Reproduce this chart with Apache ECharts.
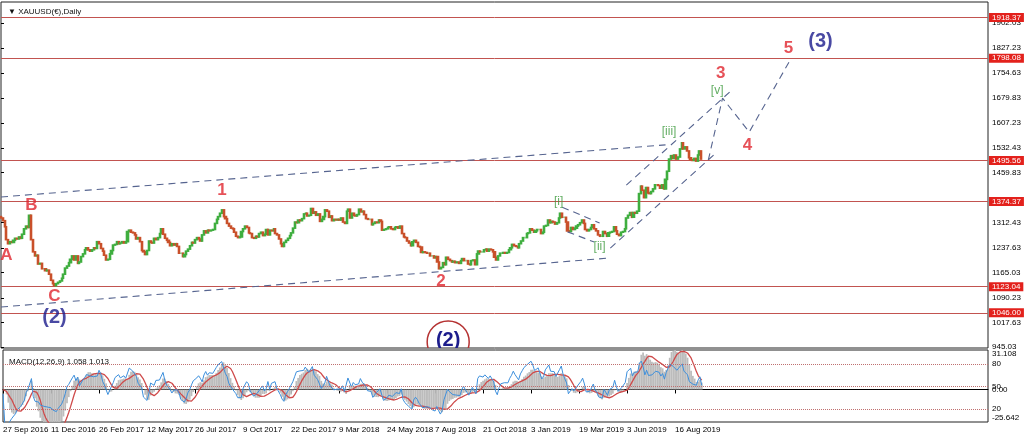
<!DOCTYPE html>
<html><head><meta charset="utf-8">
<script src="https://cdn.jsdelivr.net/npm/echarts/dist/echarts.min.js"></script>
<style>html,body{margin:0;padding:0;background:#fff}#c{width:1024px;height:440px}</style>
</head><body><div id="c"></div>
<script>
// ---------- data ----------
const tickLabels = ['27 Sep 2016','11 Dec 2016','26 Feb 2017','12 May 2017','26 Jul 2017','9 Oct 2017','22 Dec 2017','9 Mar 2018','24 May 2018','7 Aug 2018','21 Oct 2018','3 Jan 2019','19 Mar 2019','3 Jun 2019','16 Aug 2019'];
const priceTicks = [945.03,1017.63,1090.23,1165.03,1237.63,1312.43,1459.83,1532.43,1607.23,1679.83,1754.63,1827.23,1902.03];
const levels = [1918.37,1798.08,1495.56,1374.37,1123.04,1046.00];
const macdTicks = [-25.642,0,31.108];
const oscLevels = [20,50,80];
// closes, one bar per ~2 trading days
const closes = [
1326,1318,1300,1262,1250,1256,1254,1260,1266,1264,1270,1266,1278,1294,1302,1298,1334,1262,1226,1214,1216,1190,1192,1176,1176,1170,1172,1160,
1142,1132,1126,1132,1136,1140,1148,1160,1178,1184,1194,1204,1214,1202,1214,1192,1196,1212,1220,1232,1238,1232,1228,1232,1238,1236,1256,
1250,1236,1228,1216,1202,1204,1220,1230,1246,1248,1256,1250,1252,1256,1252,1256,1286,1290,1284,1282,1276,1264,1268,1256,1230,1226,1218,
1230,1258,1254,1252,1266,1262,1268,1280,1294,1278,1266,1260,1254,1244,1250,1246,1250,1242,1222,1222,1212,1218,1228,1234,1244,1254,1252,
1262,1268,1264,1258,1276,1288,1282,1290,1288,1290,1292,1310,1322,1330,1340,1350,1330,1324,1310,1302,1296,1294,1284,1272,1268,1270,1286,
1294,1302,1298,1282,1280,1268,1266,1272,1270,1280,1284,1274,1278,1292,1276,1290,1288,1294,1280,1276,1264,1250,1242,1254,1260,1266,1274,
1282,1296,1314,1312,1320,1318,1324,1338,1340,1332,1334,1354,1340,1344,1334,1338,1316,1322,1330,1350,1346,1328,1332,1318,1322,1320,1322,
1320,1326,1314,1310,1346,1352,1326,1340,1334,1332,1336,1352,1344,1346,1336,1324,1322,1322,1306,1310,1314,1312,1320,1316,1290,1292,1294,
1298,1300,1294,1292,1298,1300,1296,1302,1280,1270,1268,1258,1252,1244,1256,1260,1254,1242,1240,1224,1226,1224,1222,1222,1214,1214,1208,
1212,1196,1176,1180,1194,1188,1210,1204,1200,1196,1198,1194,1196,1192,1200,1206,1200,1200,1190,1188,1200,1202,1188,1220,1228,1226,1226,
1232,1234,1228,1234,1232,1226,1210,1202,1214,1222,1222,1224,1222,1224,1232,1238,1248,1244,1242,1238,1250,1258,1268,1268,1280,1282,1294,
1290,1284,1288,1292,1292,1280,1284,1302,1304,1320,1312,1316,1314,1308,1312,1326,1340,1328,1328,1314,1288,1286,1298,1292,1296,1302,1306,
1312,1320,1310,1292,1288,1292,1298,1306,1294,1288,1276,1272,1272,1286,1280,1272,1282,1284,1286,1300,1288,1278,1274,1284,1286,1294,1326,
1334,1342,1328,1342,1340,1346,1398,1420,1408,1386,1416,1400,1398,1404,1412,1424,1424,1422,1414,1424,1412,1440,1464,1500,1510,1502,1512,
1500,1506,1530,1548,1530,1536,1524,1504,1498,1496,1502,1494,1512,1524,1500
];
const firstOpen = 1330;
// annotations: [text, bar index, price]
const redLabels = [['A',3,1217],['B',17,1364],['C',30,1096],['1',124,1409],['2',247,1140],['3',404,1754],['4',419,1542],['5',442,1828]];
const blueLabels = [['(2)',30,1031],['(3)',460,1846]];
const greenLabels = [['[i]',313,1373],['[ii]',336,1240],['[iii]',375,1580],['[v]',402,1701]];
const circledLabels = [['(2)',251,960]];
const channelUpper = [[0,1388],[373,1542]];
const channelLower = [[0,1063],[342,1208]];
const subUpper = [[315,1358],[336,1311]];
const subLower = [[318,1285],[333,1255]];
const riseLower = [[342,1237],[400,1512]];
const riseUpper = [[351,1423],[409,1698]];
const projection = [[397,1497],[405,1680],[420,1580],[443,1793]];

// ---------- derived (indicators computed from closes) ----------
const N = 555;
const cats = Array.from({length:N},(_,i)=>String(i));
const candles = closes.map((c,i)=>{const o = i===0?firstOpen:closes[i-1];return [o,c,Math.min(o,c),Math.max(o,c)];});
function ema(a,n){const k=2/(n+1);let e=a[0];return a.map((v,i)=>(e=i===0?v:v*k+e*(1-k)));}
const ef=ema(closes,7), es=ema(closes,15);
const macd = closes.map((_,i)=>ef[i]-es[i]);
const signal = macd.map((_,i)=>{const s=Math.max(0,i-5);const w=macd.slice(s,i+1);return w.reduce((a,b)=>a+b,0)/w.length;});
const rsi = (function(){const n=10;let ag=0,al=0;const out=[];for(let i=0;i<closes.length;i++){if(i===0){out.push(40);continue;}const d=closes[i]-closes[i-1];const g=Math.max(d,0),l=Math.max(-d,0);if(i<=n){ag=(ag*(i-1)+g)/i;al=(al*(i-1)+l)/i;}else{ag=(ag*(n-1)+g)/n;al=(al*(n-1)+l)/n;}out.push(al===0?100:100-100/(1+ag/al));}return out;})();

const AX = 'Liberation Sans Narrow, Liberation Sans, sans-serif';
function dashed(d){return {type:'line',xAxisIndex:2,yAxisIndex:0,data:d,symbol:'none',silent:true,z:5,lineStyle:{color:'#56648f',width:1.1,type:[7,5]}};}
function labels(arr,color,size,weight){return {type:'scatter',xAxisIndex:2,yAxisIndex:0,silent:true,z:10,symbolSize:1,itemStyle:{color:'rgba(0,0,0,0)'},
  data:arr.map(a=>({name:a[0],value:[a[1],a[2]]})),
  label:{show:true,position:'inside',formatter:p=>p.name,color:color,fontSize:size,fontWeight:weight,fontFamily:'Liberation Sans, sans-serif'}};}

const chart = echarts.init(document.getElementById('c'),null,{renderer:'canvas'});
chart.setOption({
  animation:false,
  backgroundColor:'#fff',
  title:[
    {text:'\u25BC XAUUSD(\u20AC),Daily',left:3,top:3,textStyle:{fontSize:8,fontWeight:'normal',color:'#111',fontFamily:AX}},
    {text:'MACD(12,26,9) 1.058 1.013',left:4,top:353,textStyle:{fontSize:8,fontWeight:'normal',color:'#111',fontFamily:AX}}
  ],
  grid:[
    {left:1,top:2,width:987,height:346,show:true,borderColor:'#222',borderWidth:1},
    {left:1,top:350,width:987,height:72,show:true,borderColor:'#222',borderWidth:1}
  ],
  xAxis:[
    {type:'category',gridIndex:0,data:cats,boundaryGap:false,show:false},
    {type:'category',gridIndex:1,data:cats,boundaryGap:false,
      axisLine:{lineStyle:{color:'#000'}},
      axisTick:{interval:(i)=>i%27===0&&i/27<tickLabels.length,length:4,lineStyle:{color:'#000'}},
      axisLabel:{interval:(i)=>i%27===0&&i/27<tickLabels.length,align:'left',margin:4,fontSize:8,fontFamily:AX,color:'#000',
        formatter:(v,idx)=>tickLabels[Math.round(idx/27)]||''}},
    {type:'value',gridIndex:0,min:0,max:N-1,show:false}
  ],
  yAxis:[
    {type:'value',gridIndex:0,position:'right',min:942,max:1963.9,splitLine:{show:false},axisLine:{show:false},
      axisTick:{show:true,customValues:priceTicks,length:3,lineStyle:{color:'#000'}},
      axisLabel:{customValues:priceTicks,formatter:v=>Number(v).toFixed(2),fontSize:8,margin:4,color:'#000',fontFamily:AX}},
    {type:'value',gridIndex:1,position:'right',min:-25.642,max:31.108,splitLine:{show:false},axisLine:{show:false},
      axisTick:{show:false},
      axisLabel:{customValues:macdTicks,formatter:v=>Number(v)===0?'0.00':Number(v).toFixed(3),fontSize:8,margin:4,color:'#000',fontFamily:AX,verticalAlignMaxLabel:'top',verticalAlignMinLabel:'bottom'}},
    {type:'value',gridIndex:1,position:'right',min:2.3,max:99.1,splitLine:{show:false},axisLine:{show:false},
      axisTick:{show:false},
      axisLabel:{customValues:oscLevels,formatter:v=>String(v),fontSize:8,margin:4,color:'#000',fontFamily:AX}}
  ],
  series:[
    {type:'candlestick',xAxisIndex:0,yAxisIndex:0,data:candles,barWidth:1.6,silent:true,z:3,
      itemStyle:{color:'#3fae3f',color0:'#c9502a',borderColor:'#3fae3f',borderColor0:'#c9502a',borderWidth:1.6},
      markLine:{symbol:'none',silent:true,z:2,
        lineStyle:{color:'#c25450',type:'solid',width:1},
        label:{show:true,position:'end',distance:1,formatter:p=>Number(p.value).toFixed(2),backgroundColor:'#e3211c',color:'#fff',fontSize:8,fontFamily:AX,padding:[1,3,0,3]},
        data:levels.map(v=>({yAxis:v}))}},
    dashed(channelUpper),dashed(channelLower),dashed(subUpper),dashed(subLower),dashed(riseLower),dashed(riseUpper),dashed(projection),
    labels(redLabels,'#e0262e',17,'bold'),
    labels(blueLabels,'#1c1c8c',20,'bold'),
    labels(greenLabels,'#3c9a3c',12,'normal'),
    {type:'custom',xAxisIndex:2,yAxisIndex:0,silent:true,z:10,clip:true,
      data:circledLabels.map(a=>[a[1],a[2]]),
      renderItem:(params,api)=>{const p=api.coord([api.value(0),api.value(1)]);
        return {type:'group',children:[
          {type:'circle',shape:{cx:p[0],cy:p[1],r:21},style:{fill:'none',stroke:'#b53232',lineWidth:1.5}},
          {type:'text',style:{text:circledLabels[params.dataIndex][0],x:p[0],y:p[1]-1,align:'center',verticalAlign:'middle',fill:'#1c1c8c',font:'bold 20px Liberation Sans, sans-serif'}}]};}},
    {type:'bar',xAxisIndex:1,yAxisIndex:1,data:macd,barCategoryGap:'0%',barWidth:'100%',silent:true,itemStyle:{color:'#bcbcbc'}},
    {type:'line',xAxisIndex:1,yAxisIndex:1,data:signal,symbol:'none',silent:true,lineStyle:{color:'#cf4a4a',width:1.3}},
    {type:'line',xAxisIndex:1,yAxisIndex:2,data:rsi,symbol:'none',silent:true,lineStyle:{color:'#3d8fdc',width:1},
      markLine:{symbol:'none',silent:true,label:{show:false},lineStyle:{color:'#c07070',type:'dotted',width:1},data:oscLevels.map(v=>({yAxis:v}))}}
  ]
});
</script>
</body></html>
